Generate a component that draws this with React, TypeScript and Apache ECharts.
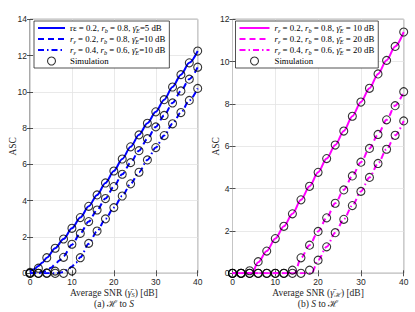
import React, { useEffect, useRef } from 'react';
import * as echarts from 'echarts';

const SERIF = '"Liberation Serif", "DejaVu Serif", serif';
const SANS = '"Liberation Sans", Arial, Helvetica, sans-serif';

// SNR points of the simulation markers (dB)
const snrDb = [0, 2, 4, 6, 8, 10, 12, 14, 16, 18, 20, 22, 24, 26, 28, 30, 32, 34, 36, 38, 40];

// (a) H to S : simulation values
const simA1 = [0.05, 0.28, 0.86, 1.38, 1.89, 2.48, 3.07, 3.69, 4.32, 4.98, 5.64, 6.3, 6.97, 7.63, 8.27, 8.9, 9.57, 10.27, 10.95, 11.6, 12.25];
const simA2 = [0, 0, 0.02, 0.12, 0.88, 1.6, 2.2, 2.85, 3.49, 4.12, 4.78, 5.46, 6.1, 6.76, 7.42, 8.07, 8.7, 9.39, 10.05, 10.7, 11.36];
const simA3 = [0, 0, 0, 0, 0, 0.12, 0.86, 1.65, 2.33, 3.0, 3.62, 4.26, 4.93, 5.57, 6.25, 6.93, 7.59, 8.24, 8.86, 9.53, 10.19];

// (a) analytical curves [SNR, ASC]
const lineA1 = [[0, 0.1], [1, 0.22], [2, 0.4], [3, 0.6], [4, 0.86], [6, 1.38], [8, 1.89], [10, 2.48], [12, 3.07], [14, 3.69], [16, 4.32], [18, 4.98], [20, 5.64], [22, 6.3], [24, 6.97], [26, 7.63], [28, 8.27], [30, 8.9], [32, 9.57], [34, 10.27], [36, 10.95], [38, 11.6], [40, 12.25]];
const lineA2 = [[0, 0], [2, 0.02], [3, 0.06], [4, 0.15], [5, 0.3], [6, 0.5], [7, 0.7], [8, 0.95], [10, 1.58], [12, 2.2], [14, 2.85], [16, 3.49], [18, 4.12], [20, 4.78], [22, 5.46], [24, 6.1], [26, 6.76], [28, 7.42], [30, 8.07], [32, 8.7], [34, 9.39], [36, 10.05], [38, 10.7], [40, 11.36]];
const lineA3 = [[0, 0], [6, 0], [7, 0.02], [8, 0.08], [9, 0.2], [10, 0.38], [11, 0.6], [12, 0.88], [14, 1.63], [16, 2.33], [18, 3.0], [20, 3.62], [22, 4.26], [24, 4.93], [26, 5.57], [28, 6.25], [30, 6.93], [32, 7.59], [34, 8.24], [36, 8.86], [38, 9.53], [40, 10.19]];

// (b) S to H : simulation values
const simB1 = [0, 0, 0.12, 0.55, 1.05, 1.64, 2.22, 2.81, 3.47, 4.11, 4.77, 5.42, 6.06, 6.72, 7.42, 8.09, 8.74, 9.42, 10.06, 10.72, 11.4];
const simB2 = [0, 0, 0, 0, 0, 0, 0, 0.15, 0.73, 1.33, 1.98, 2.62, 3.31, 3.94, 4.6, 5.25, 5.9, 6.56, 7.25, 7.92, 8.58];
const simB3 = [0, 0, 0, 0, 0, 0, 0, 0, 0, 0.15, 0.62, 1.25, 1.92, 2.55, 3.2, 3.87, 4.53, 5.19, 5.86, 6.52, 7.2];

// (b) analytical curves [SNR, ASC]
const lineB1 = [[0, 0], [4.5, 0], [6, 0.52], [8, 1.05], [10, 1.64], [12, 2.22], [14, 2.81], [16, 3.47], [18, 4.11], [20, 4.77], [22, 5.42], [24, 6.06], [26, 6.72], [28, 7.42], [30, 8.09], [32, 8.74], [34, 9.42], [36, 10.06], [38, 10.72], [40, 11.4]];
const lineB2 = [[0, 0], [14.5, 0], [16, 0.72], [18, 1.33], [20, 1.98], [22, 2.62], [24, 3.31], [26, 3.94], [28, 4.6], [30, 5.25], [32, 5.9], [34, 6.56], [36, 7.25], [38, 7.92], [40, 8.58]];
const lineB3 = [[0, 0], [18.5, 0], [20, 0.62], [22, 1.25], [24, 1.92], [26, 2.55], [28, 3.2], [30, 3.87], [32, 4.53], [34, 5.19], [36, 5.86], [38, 6.52], [40, 7.2]];

const xTicks = { min: 0, max: 40, interval: 10 };
const yMaxA = 14;
const yMaxB = 12;

const legendA = {
  a1: '{n|r\u03b5} = 0.2, {i|r}{s|b} = 0.8, {i|\u03b3\u0304}{s|E}=5 dB',
  a2: '{i|r}{s|\u03b5} = 0.2, {i|r}{s|b} = 0.8, {i|\u03b3\u0304}{s|E}=10 dB',
  a3: '{i|r}{s|\u03b5} = 0.4, {i|r}{s|b} = 0.6, {i|\u03b3\u0304}{s|E}=10 dB',
  Simulation: 'Simulation',
};
const legendB = {
  b1: '{i|r}{s|\u03b5} = 0.2, {i|r}{s|b} = 0.8, {i|\u03b3\u0304}{s|E} = 10 dB',
  b2: '{i|r}{s|\u03b5} = 0.2, {i|r}{s|b} = 0.8, {i|\u03b3\u0304}{s|E} = 20 dB',
  b3: '{i|r}{s|\u03b5} = 0.4, {i|r}{s|b} = 0.6, {i|\u03b3\u0304}{s|E} = 20 dB',
  Simulation: 'Simulation',
};

const BLUE = '#0000ff';
const MAGENTA = '#ff00ff';
const AXIS = '#262626';
const GRIDLINE = '#e3e3e3';

const DASH = [6, 4];
const DASHDOT = [6, 3, 1.5, 3];

const rich = {
  n: { fontFamily: SERIF, fontSize: 8.8, lineHeight: 10 },
  i: { fontFamily: SERIF, fontSize: 8.8, fontStyle: 'italic', lineHeight: 10 },
  s: { fontFamily: SERIF, fontSize: 6.2, fontStyle: 'italic', verticalAlign: 'bottom', lineHeight: 6 },
  t: { fontFamily: SERIF, fontSize: 9.5, lineHeight: 10 },
  ti: { fontFamily: SERIF, fontSize: 9.5, fontStyle: 'italic', lineHeight: 10 },
  ts: { fontFamily: SERIF, fontSize: 6.5, fontStyle: 'italic', verticalAlign: 'bottom', lineHeight: 6 },
};

function App() {
  const ref = useRef<HTMLDivElement>(null);
  useEffect(() => {
    if (!ref.current) return;
    const chart = echarts.init(ref.current, null, { renderer: 'svg' });

    const mkX = (gridIndex: number, name: string) => ({
      type: 'value', gridIndex, ...xTicks,
      name, nameLocation: 'middle', nameGap: 15, nameMoveOverlap: false,
      nameTextStyle: { fontFamily: SERIF, fontSize: 9.5, color: AXIS, lineHeight: 10, rich },
      axisLine: { show: false },
      axisTick: { show: true, inside: true, length: 3, lineStyle: { color: AXIS, width: 0.8 } },
      axisLabel: { fontFamily: SANS, fontSize: 8.5, color: AXIS, margin: 4 },
      splitLine: { show: true, lineStyle: { color: GRIDLINE, width: 0.8 } },
    });
    const mkXTop = (gridIndex: number) => ({
      type: 'value', gridIndex, ...xTicks, position: 'top',
      axisLine: { show: false },
      axisTick: { show: true, inside: true, length: 3, lineStyle: { color: AXIS, width: 0.8 } },
      axisLabel: { show: false }, splitLine: { show: false },
    });
    const mkY = (gridIndex: number, max: number) => ({
      type: 'value', gridIndex, min: 0, max, interval: 2,
      name: 'ASC', nameLocation: 'middle', nameGap: 12, nameMoveOverlap: false,
      nameTextStyle: { fontFamily: SERIF, fontSize: 9.5, color: AXIS },
      axisLine: { show: false },
      axisTick: { show: true, inside: true, length: 3, lineStyle: { color: AXIS, width: 0.8 } },
      axisLabel: { fontFamily: SANS, fontSize: 8.5, color: AXIS, margin: 3 },
      splitLine: { show: true, lineStyle: { color: GRIDLINE, width: 0.8 } },
    });
    const mkYRight = (gridIndex: number, max: number) => ({
      type: 'value', gridIndex, min: 0, max, interval: 2, position: 'right',
      axisLine: { show: false },
      axisTick: { show: true, inside: true, length: 3, lineStyle: { color: AXIS, width: 0.8 } },
      axisLabel: { show: false }, splitLine: { show: false },
    });

    const mkLine = (name: string, data: number[][], color: string, type: any, xi: number) => ({
      type: 'line', name, data, xAxisIndex: xi, yAxisIndex: xi,
      symbol: 'none', smooth: 0.3, smoothMonotone: 'x',
      lineStyle: { color, width: 2, type },
      itemStyle: { color },
      z: 2,
    });
    const mkSim = (vals: number[], xi: number) => ({
      type: 'scatter', name: 'Simulation', xAxisIndex: xi, yAxisIndex: xi,
      data: snrDb.map((x, i) => [x, vals[i]]),
      symbol: 'circle', symbolSize: 8,
      itemStyle: { color: 'rgba(0,0,0,0)', borderColor: '#000', borderWidth: 1.1 },
      z: 3,
    });

    const hiddenSym = { color: 'rgba(0,0,0,0)', borderColor: 'rgba(0,0,0,0)', borderWidth: 0, opacity: 0 };
    const mkLegend = (left: number, width: number, names: string[], labels: Record<string, string>) => ({
      left, top: 21, orient: 'vertical',
      data: names.map((n) => n === 'Simulation'
        ? { name: n, icon: 'circle', itemStyle: { color: 'rgba(0,0,0,0)', borderColor: '#000', borderWidth: 1.1 } }
        : { name: n, itemStyle: hiddenSym }),
      selectedMode: false,
      itemWidth: width, itemHeight: 8, itemGap: 1,
      padding: [2, 4, 2, 3],
      backgroundColor: '#fff',
      borderColor: AXIS, borderWidth: 0.8,
      textStyle: { fontFamily: SERIF, fontSize: 8.8, color: '#000', lineHeight: 10, rich },
      formatter: (name: string) => labels[name],
    });

    chart.setOption({
      animation: false,
      grid: [
        { left: 30, top: 19.3, width: 167.7, height: 254, show: true, borderColor: AXIS, borderWidth: 0.8, backgroundColor: '#fff' },
        { left: 232.5, top: 19.3, width: 171.2, height: 254, show: true, borderColor: AXIS, borderWidth: 0.8, backgroundColor: '#fff' },
      ],
      xAxis: [
        mkX(0, '{t|Average SNR (}{ti|\u03b3\u0304}{ts|S}{t|) [dB]}'),
        mkX(1, '{t|Average SNR (}{ti|\u03b3\u0304}{ts|\u210b}{t|) [dB]}'),
        mkXTop(0), mkXTop(1),
      ],
      yAxis: [mkY(0, yMaxA), mkY(1, yMaxB), mkYRight(0, yMaxA), mkYRight(1, yMaxB)],
      legend: [
        mkLegend(34, 27, ['a1', 'a2', 'a3', 'Simulation'], legendA),
        mkLegend(235.5, 30, ['b1', 'b2', 'b3', 'Simulation'], legendB),
      ],
      series: [
        mkLine('a1', lineA1, BLUE, 'solid', 0),
        mkLine('a2', lineA2, BLUE, DASH, 0),
        mkLine('a3', lineA3, BLUE, DASHDOT, 0),
        mkSim(simA1, 0), mkSim(simA2, 0), mkSim(simA3, 0),
        mkLine('b1', lineB1, MAGENTA, 'solid', 1),
        mkLine('b2', lineB2, MAGENTA, DASH, 1),
        mkLine('b3', lineB3, MAGENTA, DASHDOT, 1),
        mkSim(simB1, 1), mkSim(simB2, 1), mkSim(simB3, 1),
      ],
      graphic: [
        {
          type: 'text', x: 114, y: 304, z: 10,
          style: {
            text: '{t|(a) }{t|\u210b}{t| to }{ti|S}', rich, align: 'center', verticalAlign: 'middle',
            fontFamily: SERIF, fontSize: 9.5, fill: AXIS,
          },
        },
        {
          type: 'text', x: 318, y: 304, z: 10,
          style: {
            text: '{t|(b) }{ti|S}{t| to }{t|\u210b}', rich, align: 'center', verticalAlign: 'middle',
            fontFamily: SERIF, fontSize: 9.5, fill: AXIS,
          },
        },
      ],
    });
    return () => chart.dispose();
  }, []);
  return <div ref={ref} style={{ position: 'fixed', left: 0, top: 0, width: 415, height: 312, background: '#fff' }} />;
}

export default App;
